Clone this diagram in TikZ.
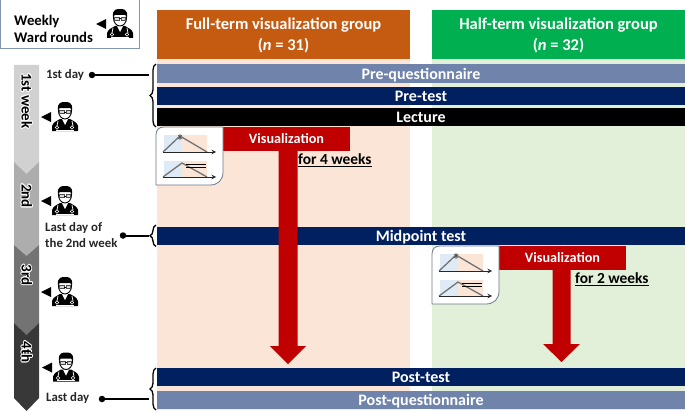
\documentclass[tikz,border=0pt]{standalone}
\usepackage{fontspec}
\setmainfont{Carlito}
\usepackage[copies]{contour}
\usepackage{tikz}
\usetikzlibrary{positioning,decorations.pathreplacing}
\definecolor{navybar}{HTML}{002060}
\definecolor{slatebar}{HTML}{6F83AB}
\definecolor{fullhead}{HTML}{C55A11}
\definecolor{halfhead}{HTML}{00B050}
\definecolor{fullback}{HTML}{FBE5D6}
\definecolor{halfback}{HTML}{E2F0D9}
\definecolor{framecol}{HTML}{8497B0}
\definecolor{redbar}{HTML}{C00000}
\definecolor{thumbblue}{HTML}{DEEBF7}
\contourlength{0.7pt}
\tikzset{
  headbox/.style={text=white, font=\bfseries\fontsize{16.5}{21}\selectfont, minimum width=253, minimum height=49, inner sep=0, align=center},
  barbox/.style={text=white, font=\bfseries\fontsize{16}{18}\selectfont, minimum width=528, minimum height=18, inner sep=0, text height=14, text depth=3},
  vizbox/.style={fill=redbar, text=white, font=\bfseries\fontsize{14.2}{16}\selectfont, minimum width=127, minimum height=24, inner sep=0, text height=12, text depth=3},
  weeklabel/.style={rotate=-90, font=\bfseries\fontsize{15}{17}\selectfont, inner sep=0},
  timelabel/.style={font=\bfseries\fontsize{12.8}{15.5}\selectfont, align=left, inner sep=0, text=black!85},
  durlabel/.style={font=\bfseries\fontsize{15.4}{17}\selectfont, inner sep=0},
  dotnode/.style={circle, fill=black, minimum size=6.5, inner sep=0},
  timeline/.style={line width=2pt},
  bracket/.style={line width=1.3pt, decorate, decoration={brace, amplitude=6pt, aspect=0.5}},
  thumbframe/.style={draw=framecol!80!black, line width=0.8pt, fill=white},
  doctor/.pic={
    \fill (-14,-5) -- (-24,0) -- (-14,5) -- cycle;
    \fill (-13,14) -- (-13,9) .. controls (-12,5) and (-8,4) .. (-5,2) -- (5,2) .. controls (8,4) and (12,5) .. (13,9) -- (13,14) -- cycle;
    \fill[white] (-3,2) -- (0,8) -- (3,2) -- cycle;
    \draw[white, line width=0.7pt] (-7,4) -- (-8,9) (7,4) -- (8,9);
    \draw[white, line width=0.6pt] (-8,10.5) circle (1.7) (7,10.5) circle (1.7);
    \draw[white, line width=0.6pt] (-9,13) -- (9,13);
    \draw[fill=white, line width=0.9pt] (0,-6) circle [x radius=6.5, y radius=8];
    \fill (-7,-7) .. controls (-8,-15) and (-3,-15) .. (0,-15) .. controls (3,-15) and (8,-15) .. (7,-7) -- (5.5,-9) -- (-5.5,-9) -- cycle;
    \draw[black!70, fill=black!15, line width=0.6pt] (-5.5,-6.5) rectangle (-1,-3.5) (1,-6.5) rectangle (5.5,-3.5);
    \fill (-1,-5.5) rectangle (1,-4.8);
  },
  minichart/.pic={
    \fill[thumbblue] (8,8) rectangle (26,25) (8,34) rectangle (26,50);
    \fill[fullback] (26,8) rectangle (51,25) (26,34) rectangle (51,50);
    \draw[black!55, line width=1.3pt] (7,25) -- (24,9) -- (51,25);
    \draw[black!55, line width=1.3pt] (7,50) -- (26,36) -- (51,50);
    \draw[black!85, line width=1pt, -stealth] (7,25) -- (60,25);
    \draw[black!85, line width=1pt, -stealth] (7,50) -- (60,50);
    \draw[black!70, line width=0.6pt] (22,8) -- (26,12) (26,8) -- (22,12) (24,7) -- (24,13);
    \draw[black, line width=0.8pt] (30,37) -- (50,37) (30,40) -- (50,40);
  }
}
\begin{document}
\begin{tikzpicture}[x=1pt, y=-1pt]
    \useasboundingbox (0,0) rectangle (685,412);

    % group backgrounds
    \node[minimum width=253, minimum height=351, inner sep=0, fill=fullback] (fullback) at (283.5,234.5) {};
    \node[minimum width=253, minimum height=351, inner sep=0, fill=halfback] (halfback) at (558.5,234.5) {};
    \fill[fullhead] (157,10) rectangle (410,59);
    \fill[halfhead] (432,10) rectangle (685,59);
    \node[headbox] (fullgroup) at (283.5,35.5) {Full-term visualization group\\(\textit{n} = 31)};
    \node[headbox] (halfgroup) at (558.5,35.5) {Half-term visualization group\\(\textit{n} = 32)};

    % legend
    \node[draw=framecol, line width=1pt, minimum width=139, minimum height=49, inner sep=0, fill=white] (legend) at (70,24.5) {};
    \node[font=\bfseries\fontsize{14.7}{17.5}\selectfont, align=left, inner sep=0, anchor=west] (legendtext) at (14,29) {Weekly\\Ward rounds};
    \pic at (120,24) {doctor};

    % bars
    \node[barbox, fill=slatebar] (prequest) at (421,73.5) {Pre-questionnaire};
    \node[barbox, fill=navybar] (pretest) at (421,96) {Pre-test};
    \node[barbox, fill=black] (lecture) at (421,117) {Lecture};
    \node[barbox, fill=navybar] (midtest) at (421,236) {Midpoint test};
    \node[barbox, fill=navybar] (posttest) at (421,377) {Post-test};
    \node[barbox, fill=slatebar] (postquest) at (421,400) {Post-questionnaire};

    % week arrow
    \fill[black!18!white] (14,65) -- (39,65) -- (39,162) -- (26.5,174) -- (14,162) -- cycle;
    \fill[black!32!white] (14,162) -- (26.5,174) -- (39,162) -- (39,245) -- (26.5,256) -- (14,245) -- cycle;
    \fill[black!55!white] (14,245) -- (26.5,256) -- (39,245) -- (39,323) -- (26.5,335) -- (14,323) -- cycle;
    \fill[black!78!white] (14,323) -- (26.5,335) -- (39,323) -- (39,398) -- (26.5,411) -- (14,398) -- cycle;
    \node[weeklabel] (week1) at (26.5,101) {\contour{white}{1st week}};
    \node[weeklabel] (week2) at (26.5,196) {\contour{white}{2nd}};
    \node[weeklabel] (week3) at (26.5,275) {\contour{white}{3rd}};
    \node[weeklabel] (week4) at (26.5,352) {\contour{white}{4th}};

    \pic at (65,117) {doctor};
    \pic at (65,201) {doctor};
    \pic at (65,292) {doctor};
    \pic at (66,367.5) {doctor};

    % time marks
    \node[timelabel, anchor=west] (firstday) at (46,75) {1st day};
    \node[dotnode] (firstdot) at (92,75) {};
    \coordinate (firsttip) at (149,75);
    \draw[timeline] (firstdot) -- (firsttip);
    \draw[bracket] (156,127) -- (156,64);

    \node[timelabel, anchor=west] (midday) at (45,235) {Last day of\\the 2nd week};
    \node[dotnode] (middot) at (123,235.5) {};
    \coordinate (midtip) at (149,235.5);
    \draw[timeline] (middot) -- (midtip);
    \draw[bracket] (156,246.5) -- (156,225);

    \node[timelabel, anchor=west] (lastday) at (46,398.5) {Last day};
    \node[dotnode] (lastdot) at (102,399) {};
    \coordinate (lasttip) at (149,399);
    \draw[timeline] (lastdot) -- (lasttip);
    \draw[bracket] (156,410) -- (156,368);

    % full-term visualization
    \node[vizbox] (fullviz) at (286.5,139) {Visualization};
    \coordinate (fulltip) at (288,364);
    \fill[redbar] (278.5,151) -- (297.5,151) -- (297.5,346) -- (306,346) -- (fulltip) -- (270,346) -- (278.5,346) -- cycle;
    \node[durlabel, anchor=west] (fullweeks) at (298,160) {\underline{for 4 weeks}};
    \draw[thumbframe] (156,135) .. controls (156,130) and (159,127) .. (164,127) -- (223,127) -- (223,172) .. controls (223,180) and (218,185) .. (210,185) -- (156,185) -- cycle;
    \pic at (156,127) {minichart};

    % half-term visualization
    \node[vizbox] (halfviz) at (562.5,257.5) {Visualization};
    \coordinate (halftip) at (561.5,362);
    \fill[redbar] (552.5,269) -- (570.5,269) -- (570.5,344) -- (580,344) -- (halftip) -- (543,344) -- (552.5,344) -- cycle;
    \node[durlabel, anchor=west] (halfweeks) at (575,279) {\underline{for 2 weeks}};
    \draw[thumbframe] (432,254) .. controls (432,249) and (435,246) .. (440,246) -- (499,246) -- (499,291) .. controls (499,299) and (494,304) .. (486,304) -- (432,304) -- cycle;
    \pic at (432,246) {minichart};
\end{tikzpicture}
\end{document}
